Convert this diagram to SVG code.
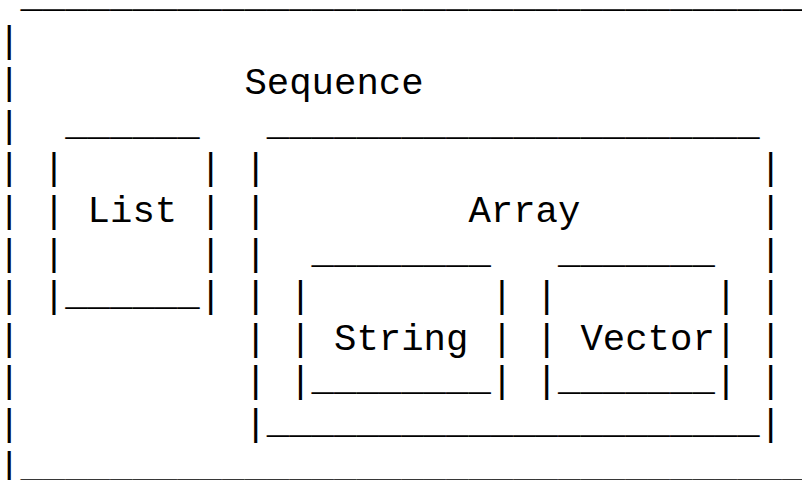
<svg xmlns="http://www.w3.org/2000/svg" width="802" height="480" viewBox="0 0 802 480">
<style>
.t{font-family:"Liberation Mono","DejaVu Sans Mono",monospace;font-size:37.33px;fill:#000;white-space:pre}
.u{transform:translateY(-2px)}
.b{transform:translateY(-1px)}
</style>
<rect width="802" height="480" fill="#fff"/>
<g id="sequence">
<text class="t u" x="20.4" y="9">___________________________________</text>
<text class="t"><tspan x="-2" y="51.6">|</tspan><tspan x="-2" y="94.2">|</tspan><tspan x="-2" y="136.8">|</tspan><tspan x="-2" y="179.4">|</tspan><tspan x="-2" y="222">|</tspan><tspan x="-2" y="264.6">|</tspan><tspan x="-2" y="307.2">|</tspan><tspan x="-2" y="349.8">|</tspan><tspan x="-2" y="392.4">|</tspan><tspan x="-2" y="435">|</tspan><tspan x="-2" y="477.6">|</tspan></text>
<text class="t" x="244.4" y="94.2">Sequence</text>
<text class="t b" x="20.4" y="477.6">___________________________________</text>
</g>
<g id="list">
<text class="t u" x="65.2" y="136.8">______</text>
<text class="t"><tspan x="42.8" y="179.4">|</tspan><tspan x="42.8" y="222">|</tspan><tspan x="42.8" y="264.6">|</tspan><tspan x="42.8" y="307.2">|</tspan></text>
<text class="t"><tspan x="199.6" y="179.4">|</tspan><tspan x="199.6" y="222">|</tspan><tspan x="199.6" y="264.6">|</tspan><tspan x="199.6" y="307.2">|</tspan></text>
<text class="t" x="87.6" y="222">List</text>
<text class="t u" x="65.2" y="307.2">______</text>
</g>
<g id="array">
<text class="t u" x="266.8" y="136.8">______________________</text>
<text class="t"><tspan x="244.4" y="179.4">|</tspan><tspan x="244.4" y="222">|</tspan><tspan x="244.4" y="264.6">|</tspan><tspan x="244.4" y="307.2">|</tspan><tspan x="244.4" y="349.8">|</tspan><tspan x="244.4" y="392.4">|</tspan><tspan x="244.4" y="435">|</tspan></text>
<text class="t"><tspan x="759.6" y="179.4">|</tspan><tspan x="759.6" y="222">|</tspan><tspan x="759.6" y="264.6">|</tspan><tspan x="759.6" y="307.2">|</tspan><tspan x="759.6" y="349.8">|</tspan><tspan x="759.6" y="392.4">|</tspan><tspan x="759.6" y="435">|</tspan></text>
<text class="t" x="468.4" y="222">Array</text>
<text class="t u" x="266.8" y="435">______________________</text>
</g>
<g id="string">
<text class="t u" x="311.6" y="264.6">________</text>
<text class="t"><tspan x="289.2" y="307.2">|</tspan><tspan x="289.2" y="349.8">|</tspan><tspan x="289.2" y="392.4">|</tspan></text>
<text class="t"><tspan x="490.8" y="307.2">|</tspan><tspan x="490.8" y="349.8">|</tspan><tspan x="490.8" y="392.4">|</tspan></text>
<text class="t" x="334" y="349.8">String</text>
<text class="t u" x="311.6" y="392.4">________</text>
</g>
<g id="vector">
<text class="t u" x="558" y="264.6">_______</text>
<text class="t"><tspan x="535.6" y="307.2">|</tspan><tspan x="535.6" y="349.8">|</tspan><tspan x="535.6" y="392.4">|</tspan></text>
<text class="t"><tspan x="714.8" y="307.2">|</tspan><tspan x="714.8" y="349.8">|</tspan><tspan x="714.8" y="392.4">|</tspan></text>
<text class="t" x="580.4" y="349.8">Vector</text>
<text class="t u" x="558" y="392.4">_______</text>
</g>
<g id="connectors"></g>
</svg>
